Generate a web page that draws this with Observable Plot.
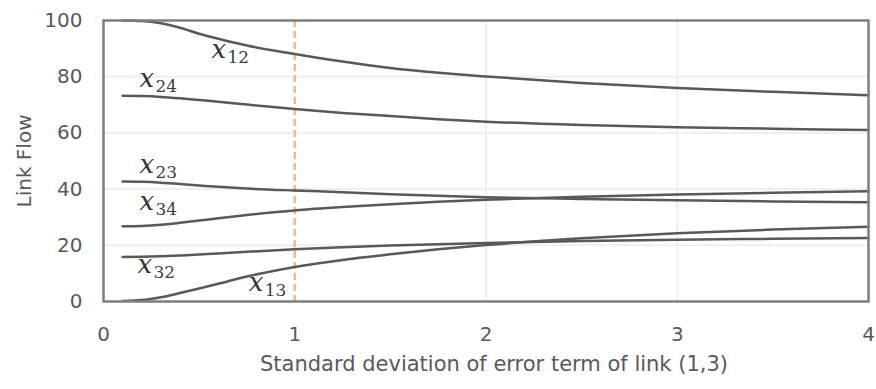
<!DOCTYPE html>
<html><head><meta charset="utf-8">
<script src="https://cdn.jsdelivr.net/npm/d3@7"></script>
<script src="https://cdn.jsdelivr.net/npm/@observablehq/plot@0.6"></script>
<style>body{margin:0;background:#fff} svg{display:block}</style>
</head><body><div id="chart"></div>
<script>
const sigma = [0.1, 0.2, 0.3, 0.4, 0.5, 0.6, 0.75, 1, 1.25, 1.5, 1.75, 2, 2.5, 3, 3.5, 4];
const x12 = [100, 99.8, 99.0, 97.4, 95.3, 93.5, 91.1, 88.1, 85.4, 83.1, 81.4, 80.1, 77.8, 76.0, 74.6, 73.4];
const x24 = [73.2, 73.1, 72.8, 72.3, 71.7, 71.1, 70.1, 68.5, 67.1, 66.0, 64.9, 64.0, 62.8, 62.0, 61.5, 61.0];
const x23 = [42.7, 42.6, 42.3, 41.8, 41.3, 40.8, 40.2, 39.5, 38.9, 38.2, 37.6, 37.1, 36.5, 36.0, 35.6, 35.3];
const x34 = [26.8, 26.9, 27.3, 28.0, 28.8, 29.6, 30.8, 32.4, 33.6, 34.6, 35.5, 36.2, 37.3, 38.1, 38.7, 39.2];
const x32 = [15.8, 15.9, 16.1, 16.4, 16.7, 17.1, 17.7, 18.6, 19.3, 19.9, 20.4, 20.8, 21.5, 22.0, 22.3, 22.6];
const x13 = [0.2, 0.5, 1.5, 3.0, 4.6, 6.3, 8.9, 12.3, 14.8, 16.8, 18.6, 20.1, 22.5, 24.3, 25.6, 26.6];
const seriesNames = ["x12", "x24", "x23", "x34", "x32", "x13"];
const seriesValues = [x12, x24, x23, x34, x32, x13];
const labelSubs = ["12", "24", "23", "34", "32", "13"];
const labelX = [0.565, 0.188, 0.188, 0.188, 0.178, 0.759];
const labelY = [86.8, 76.5, 45.9, 32.4, 10.0, 3.9];
const xTicks = [0, 1, 2, 3, 4];
const yTicks = [0, 20, 40, 60, 80, 100];
const xGrid = [2, 3];
const yGrid = [20, 40, 60, 80];
const refLine = [1];
const xTitle = "Standard deviation of error term of link (1,3)";
const yTitle = "Link Flow";

const rows = seriesNames.flatMap((name, i) => sigma.map((s, j) => ({series: name, x: s, y: seriesValues[i][j]})));
const labels = labelSubs.map((sub, i) => ({sub, x: labelX[i], y: labelY[i]}));

const chart = Plot.plot({
  width: 876,
  height: 389,
  marginLeft: 103,
  marginRight: 8,
  marginTop: 20,
  marginBottom: 88,
  style: {fontFamily: "DejaVu Sans, sans-serif", background: "#fff"},
  x: {domain: [0, 4]},
  y: {domain: [0, 100]},
  marks: [
    Plot.gridX(xGrid, {stroke: "#efefef", strokeOpacity: 1, strokeWidth: 2}),
    Plot.gridY(yGrid, {stroke: "#efefef", strokeOpacity: 1, strokeWidth: 2}),
    Plot.ruleX(refLine, {stroke: "#f4b183", strokeWidth: 2.2, strokeDasharray: "7,4"}),
    Plot.line(rows, {x: "x", y: "y", z: "series", stroke: "#595959", strokeWidth: 2.5, curve: "monotone-x"}),
    Plot.text(labels, {x: "x", y: "y", text: () => "x", textAnchor: "start", lineAnchor: "bottom",
      fontFamily: "DejaVu Serif, serif", fontStyle: "italic", fontSize: 26, fill: "#333"}),
    Plot.text(labels, {x: "x", y: "y", text: "sub", textAnchor: "start", lineAnchor: "bottom", dx: 16, dy: 5,
      fontFamily: "DejaVu Serif, serif", fontSize: 17, fill: "#404040"}),
    Plot.frame({stroke: "#7f7f7f", strokeWidth: 2.5}),
    Plot.axisX(xTicks, {tickSize: 0, tickPadding: 25, fontSize: 20, color: "#595959", label: null, tickFormat: d => String(d)}),
    Plot.axisY(yTicks, {tickSize: 0, tickPadding: 21, fontSize: 20, color: "#595959", label: null, tickFormat: d => String(d)}),
    Plot.text([xTitle], {frameAnchor: "bottom", dx: 8, dy: 63, textAnchor: "middle", lineAnchor: "middle", text: d => d, fontSize: 21, fill: "#595959"}),
    Plot.text([yTitle], {frameAnchor: "left", dx: -79, rotate: -90, textAnchor: "middle", lineAnchor: "middle", text: d => d, fontSize: 20, fill: "#595959"})
  ]
});
document.getElementById("chart").append(chart);
</script>
</body></html>
